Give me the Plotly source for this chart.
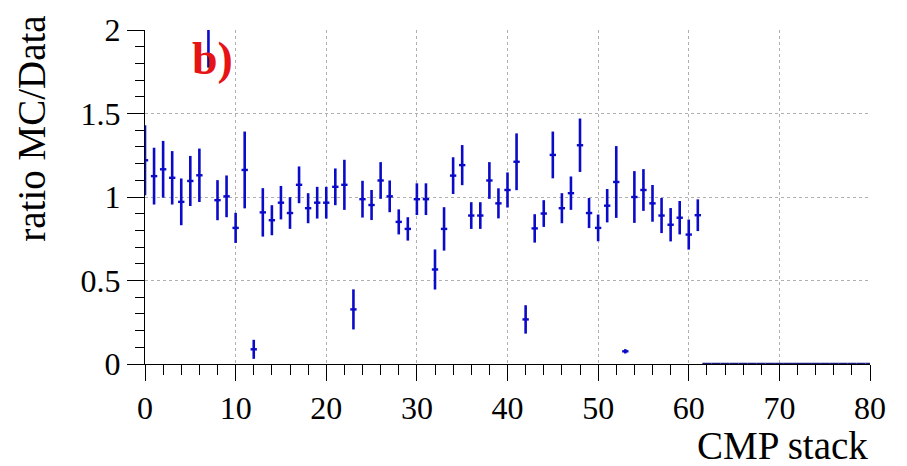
import plotly.graph_objects as go

# CMP stack index (bin centres) and MC/Data ratio with uncertainties
stack = list(range(0, 62))
ratio = [1.22, 1.125, 1.166, 1.115, 0.971, 1.096, 1.13, 2.3, 0.981, 1.004,
         0.815, 1.162, 0.088, 0.908, 0.861, 0.966, 0.904, 1.073, 0.933, 0.966,
         0.966, 1.061, 1.073, 0.327, 0.987, 0.952, 1.099, 1.004, 0.851, 0.809,
         0.987, 0.987, 0.566, 0.809, 1.128, 1.191, 0.889, 0.889, 1.099, 0.962,
         1.042, 1.211, 0.267, 0.812, 0.901, 1.252, 0.933, 1.023, 1.31, 0.904,
         0.815, 0.948, 1.09, 0.076, 1.0, 1.042, 0.962, 0.889, 0.834, 0.876,
         0.775, 0.891]
ratio_err = [0.21, 0.17, 0.17, 0.16, 0.14, 0.15, 0.16, 0.525, 0.12, 0.125,
             0.09, 0.23, 0.057, 0.145, 0.09, 0.10, 0.095, 0.11, 0.09, 0.095,
             0.095, 0.11, 0.15, 0.12, 0.11, 0.09, 0.11, 0.095, 0.075, 0.07,
             0.095, 0.095, 0.12, 0.13, 0.11, 0.12, 0.08, 0.08, 0.11, 0.09,
             0.105, 0.17, 0.085, 0.085, 0.08, 0.14, 0.09, 0.10, 0.16, 0.09,
             0.08, 0.10, 0.215, 0.013, 0.155, 0.125, 0.11, 0.105, 0.10, 0.10,
             0.09, 0.095]

# empty bins (ratio drawn at zero)
empty_stack = list(range(62, 81))
empty_ratio = [0.0] * len(empty_stack)

x_ticks = [0, 10, 20, 30, 40, 50, 60, 70, 80]
y_ticks = [0, 0.5, 1, 1.5, 2]
y_labels = ["0", "0.5", "1", "1.5", "2"]

BLUE = "#0a0ac8"
FONT = "Liberation Serif"

fig = go.Figure()
fig.add_trace(go.Scatter(
    x=stack, y=ratio, mode="markers",
    marker=dict(size=1, color=BLUE),
    error_y=dict(type="data", array=ratio_err, visible=True,
                 color=BLUE, thickness=2.6, width=0),
    error_x=dict(type="constant", value=0.35, visible=True,
                 color=BLUE, thickness=2.4, width=0),
    showlegend=False, hoverinfo="x+y",
))
fig.add_trace(go.Scatter(
    x=empty_stack, y=empty_ratio, mode="markers",
    marker=dict(size=1, color="#1a1a80"),
    error_x=dict(type="constant", value=0.5, visible=True,
                 color="#1a1a80", thickness=2.5, width=0),
    showlegend=False, hoverinfo="x+y",
))

grid = dict(showgrid=True, gridcolor="#b0b0b0", gridwidth=1, griddash="dot")

fig.update_layout(
    width=907, height=466,
    margin=dict(l=144.5, r=37, t=16, b=101.7),
    paper_bgcolor="white", plot_bgcolor="white",
    font=dict(family=FONT, color="black", size=32),
    xaxis=dict(range=[0, 80], tickvals=x_ticks, ticks="outside", ticklen=16,
               tickwidth=1, tickcolor="black", showline=True, linecolor="black",
               linewidth=1, zeroline=False, layer="below traces",
               tickfont=dict(family=FONT, size=32),
               minor=dict(dtick=2, ticks="outside", ticklen=10, tickcolor="black",
                          showgrid=False),
               **grid),
    yaxis=dict(range=[0, 2.0001], tickvals=y_ticks, ticktext=y_labels,
               ticks="outside", ticklen=17, tickwidth=1, tickcolor="black",
               showline=True, linecolor="black", linewidth=1, zeroline=False,
               layer="below traces", tickfont=dict(family=FONT, size=32),
               ticklabeloverflow="allow",
               minor=dict(dtick=0.1, ticks="outside", ticklen=9, tickcolor="black",
                          showgrid=False),
               **grid),
    annotations=[
        dict(text="CMP stack", xref="paper", yref="paper", x=1.0, y=-0.243,
             xanchor="right", yanchor="middle", showarrow=False,
             font=dict(family=FONT, size=39, color="black")),
        dict(text="ratio MC/Data", xref="paper", yref="y", x=-0.157, y=1.41,
             xanchor="center", yanchor="middle", textangle=-90, showarrow=False,
             font=dict(family=FONT, size=39, color="black")),
        dict(text="<b>b)</b>", xref="x", yref="y", x=5.0, y=1.83,
             xanchor="left", yanchor="middle", showarrow=False,
             font=dict(family=FONT, size=46, color="#e61414")),
    ],
)

fig.write_html("out.html", config={"displayModeBar": False},
               post_script="document.body.style.margin='0px';")
